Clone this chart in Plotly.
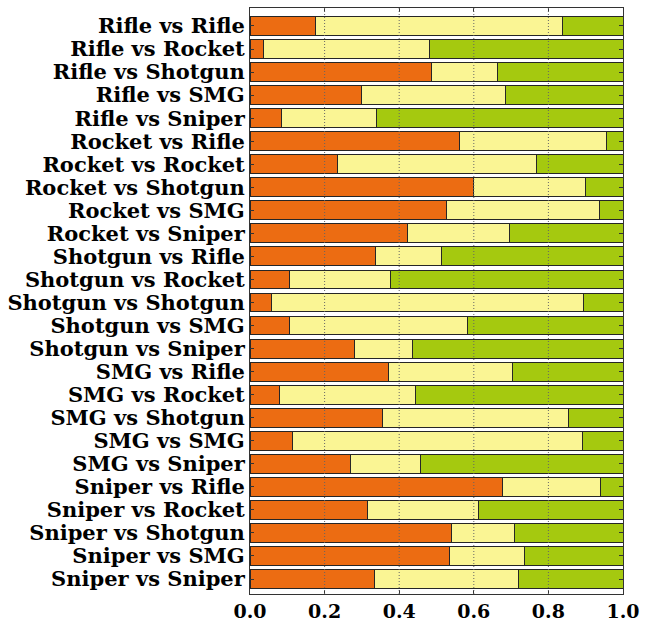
import plotly.graph_objects as go

# Matchup categories, top to bottom
matchups = [
    "Rifle vs Rifle", "Rifle vs Rocket", "Rifle vs Shotgun", "Rifle vs SMG", "Rifle vs Sniper",
    "Rocket vs Rifle", "Rocket vs Rocket", "Rocket vs Shotgun", "Rocket vs SMG", "Rocket vs Sniper",
    "Shotgun vs Rifle", "Shotgun vs Rocket", "Shotgun vs Shotgun", "Shotgun vs SMG", "Shotgun vs Sniper",
    "SMG vs Rifle", "SMG vs Rocket", "SMG vs Shotgun", "SMG vs SMG", "SMG vs Sniper",
    "Sniper vs Rifle", "Sniper vs Rocket", "Sniper vs Shotgun", "Sniper vs SMG", "Sniper vs Sniper",
]

# Share of outcomes per matchup (three stacked segments summing to 1)
first_share = [
    0.175, 0.037, 0.487, 0.298, 0.084,
    0.561, 0.234, 0.599, 0.527, 0.423,
    0.336, 0.106, 0.058, 0.106, 0.281,
    0.372, 0.078, 0.354, 0.114, 0.269,
    0.677, 0.316, 0.540, 0.536, 0.335,
]
middle_share = [
    0.662, 0.445, 0.177, 0.387, 0.256,
    0.396, 0.533, 0.300, 0.409, 0.272,
    0.178, 0.271, 0.837, 0.477, 0.154,
    0.333, 0.365, 0.501, 0.778, 0.189,
    0.262, 0.297, 0.169, 0.200, 0.385,
]
last_share = [round(1 - a - b, 3) for a, b in zip(first_share, middle_share)]

x_ticks = [0.0, 0.2, 0.4, 0.6, 0.8, 1.0]

segments = [
    (first_share, "#EC6C12"),
    (middle_share, "#FAF594"),
    (last_share, "#A5C90F"),
]

fig = go.Figure()
for values, color in segments:
    fig.add_trace(go.Bar(
        y=matchups,
        x=values,
        orientation="h",
        marker=dict(color=color, line=dict(color="#262626", width=1)),
        showlegend=False,
    ))

# dotted vertical guides drawn over the bars
for t in x_ticks[1:-1]:
    fig.add_shape(type="line", xref="x", yref="paper", x0=t, x1=t, y0=0, y1=1,
                  line=dict(color="#666666", width=1, dash="1px,2px"), layer="above")

label_font = dict(family="DejaVu Serif", size=21, color="black", weight="bold")
tick_font = dict(family="DejaVu Serif", size=19, color="black", weight="bold")

fig.update_layout(
    barmode="stack",
    bargap=0.18,
    width=650,
    height=621,
    margin=dict(l=250, r=27, t=8, b=27, autoexpand=False),
    plot_bgcolor="white",
    paper_bgcolor="white",
    xaxis=dict(
        range=[0, 1],
        tickvals=x_ticks,
        ticktext=[f"{v:.1f}" for v in x_ticks],
        showgrid=False,
        zeroline=False,
        showline=True,
        linecolor="#333333",
        linewidth=1,
        mirror="ticks",
        ticks="inside",
        ticklen=4,
        tickcolor="#333333",
        tickfont=tick_font,
        automargin=False,
    ),
    yaxis=dict(
        categoryorder="array",
        categoryarray=matchups,
        tickmode="array",
        tickvals=matchups,
        ticktext=matchups,
        range=[24.65, -0.78],
        showgrid=False,
        zeroline=False,
        showline=True,
        linecolor="#333333",
        linewidth=1,
        mirror="ticks",
        ticks="inside",
        ticklen=4,
        tickcolor="#333333",
        tickfont=label_font,
        automargin=False,
    ),
)

fig.write_html("out.html")
